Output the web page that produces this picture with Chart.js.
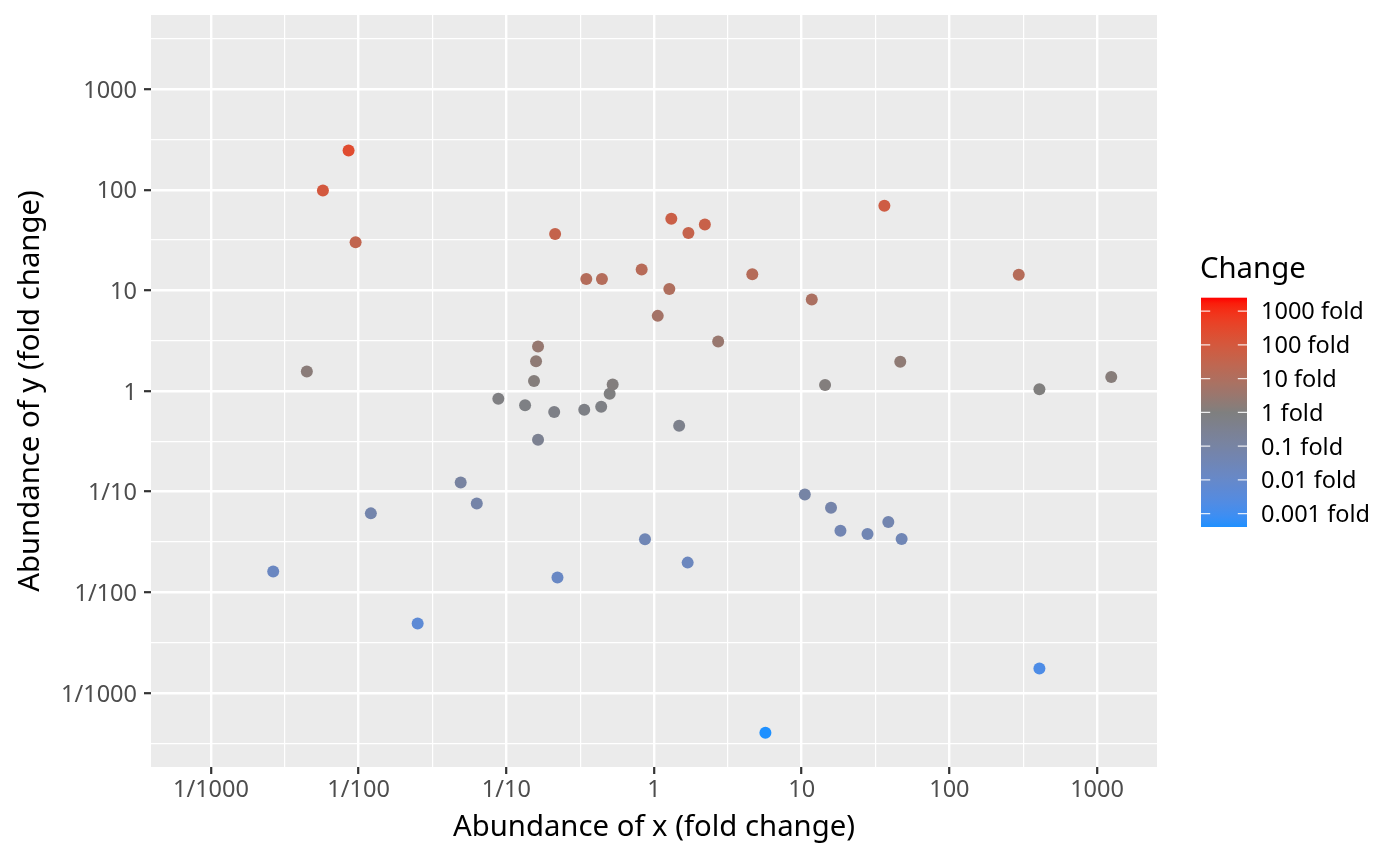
<!DOCTYPE html>
<html>
<head>
<meta charset="utf-8">
<title>Abundance fold change</title>
<script src="https://cdn.jsdelivr.net/npm/chart.js@4.4.1/dist/chart.umd.min.js"></script>
<style>
  html, body { margin: 0; padding: 0; background: #ffffff; }
  #wrap { width: 1400px; height: 866px; position: relative; }
</style>
</head>
<body>
<div id="wrap"><canvas id="chart"></canvas></div>
<script>
// fold changes
const xAbundance = [0.00855, 0.00573, 0.00954, 0.00446, 0.00264, 0.0121, 0.0251, 0.0491, 0.0631, 0.0883,
  0.134, 0.154, 0.159, 0.164, 0.164, 0.211, 0.214, 0.222, 0.348, 0.337,
  0.444, 0.439, 0.501, 0.525, 0.825, 0.869, 1.06, 1.27, 1.31, 1.48,
  1.71, 1.69, 2.21, 2.72, 4.63, 5.68, 10.5, 11.7, 14.4, 15.8,
  18.3, 27.9, 36.3, 38.6, 46.5, 47.5, 295, 407, 407, 1248];
const yAbundance = [246, 98.5, 30.0, 1.56, 0.0161, 0.0608, 0.00489, 0.123, 0.0764, 0.837,
  0.723, 1.26, 1.98, 2.77, 0.328, 0.619, 36.4, 0.0140, 13.0, 0.652,
  13.0, 0.697, 0.938, 1.16, 16.1, 0.0337, 5.58, 10.3, 51.6, 0.451,
  37.2, 0.0197, 45.2, 3.10, 14.5, 0.000401, 0.0938, 8.13, 1.15, 0.0692,
  0.0409, 0.0379, 69.4, 0.0498, 1.95, 0.0338, 14.3, 1.04, 0.00175, 1.38];

const axisTickValues = [0.001, 0.01, 0.1, 1, 10, 100, 1000];
const axisTickLabels = ["1/1000", "1/100", "1/10", "1", "10", "100", "1000"];
const legendValues = [1000, 100, 10, 1, 0.1, 0.01, 0.001];
const legendLabels = ["1000 fold", "100 fold", "10 fold", "1 fold", "0.1 fold", "0.01 fold", "0.001 fold"];

const LOW = "#1E90FF", MID = "#7F7F7F", HIGH = "#FF0000";
const FONT = "'Noto Sans', 'DejaVu Sans', sans-serif";

// symmetric limits around 1, plus ggplot's 5% expansion
const maxAbsLog = arr => Math.max(...arr.map(v => Math.abs(Math.log10(v))));
const xLim = maxAbsLog(xAbundance) * 1.1;
const yLim = maxAbsLog(yAbundance) * 1.1;
const colourLim = maxAbsLog(yAbundance);

// ---- colour ramp in Lab space (like scales::div_gradient_pal)
function hexToRgb(h) {
  return [1, 3, 5].map(i => parseInt(h.slice(i, i + 2), 16));
}
function rgbToLab(rgb) {
  const [r, g, b] = rgb.map(c => { c /= 255; return c <= 0.04045 ? c / 12.92 : Math.pow((c + 0.055) / 1.055, 2.4); });
  const X = (0.4124564 * r + 0.3575761 * g + 0.1804375 * b) / 0.95047;
  const Y = (0.2126729 * r + 0.7151522 * g + 0.0721750 * b);
  const Z = (0.0193339 * r + 0.1191920 * g + 0.9503041 * b) / 1.08883;
  const f = t => t > 0.008856 ? Math.cbrt(t) : 7.787 * t + 16 / 116;
  const fx = f(X), fy = f(Y), fz = f(Z);
  return [116 * fy - 16, 500 * (fx - fy), 200 * (fy - fz)];
}
function labToRgb([L, A, B]) {
  const fy = (L + 16) / 116, fx = fy + A / 500, fz = fy - B / 200;
  const finv = t => t * t * t > 0.008856 ? t * t * t : (t - 16 / 116) / 7.787;
  const X = finv(fx) * 0.95047, Y = finv(fy), Z = finv(fz) * 1.08883;
  let r = 3.2404542 * X - 1.5371385 * Y - 0.4985314 * Z;
  let g = -0.9692660 * X + 1.8760108 * Y + 0.0415560 * Z;
  let b = 0.0556434 * X - 0.2040259 * Y + 1.0572252 * Z;
  return [r, g, b].map(c => {
    c = c <= 0.0031308 ? 12.92 * c : 1.055 * Math.pow(c, 1 / 2.4) - 0.055;
    return Math.round(Math.min(1, Math.max(0, c)) * 255);
  });
}
const labLow = rgbToLab(hexToRgb(LOW)), labMid = rgbToLab(hexToRgb(MID)), labHigh = rgbToLab(hexToRgb(HIGH));
function changeColour(logv) {
  let t = 0.5 + logv / (2 * colourLim);
  t = Math.min(1, Math.max(0, t));
  let a, b, s;
  if (t < 0.5) { a = labLow; b = labMid; s = t / 0.5; } else { a = labMid; b = labHigh; s = (t - 0.5) / 0.5; }
  const rgb = labToRgb(a.map((v, i) => v + (b[i] - v) * s));
  return `rgb(${rgb[0]},${rgb[1]},${rgb[2]})`;
}

// major ticks at decades, minor grid at half decades
function halfDecades(lim) {
  const out = [];
  for (let k = -7; k <= 7; k++) {
    const e = k / 2;
    if (Math.abs(e) <= lim) out.push(Math.pow(10, e));
  }
  return out;
}
const isMajor = v => {
  const l = Math.log10(v);
  return Math.abs(l - Math.round(l)) < 1e-6;
};
function tickLabel(v) {
  const i = axisTickValues.findIndex(t => Math.abs(Math.log10(t) - Math.log10(v)) < 1e-6);
  return i >= 0 ? axisTickLabels[i] : "";
}

const gridOpts = {
  color: "#ffffff",
  lineWidth: c => (c.tick && isMajor(c.tick.value)) ? 2.4 : 1.2,
  tickColor: c => (c.tick && isMajor(c.tick.value)) ? "#333333" : "rgba(0,0,0,0)",
  tickWidth: 2.2,
  tickLength: 7,
  drawTicks: true
};

const panelBg = {
  id: "panelBg",
  beforeDraw(chart) {
    const { ctx, chartArea: a } = chart;
    ctx.save();
    ctx.fillStyle = "#EBEBEB";
    ctx.fillRect(a.left, a.top, a.right - a.left, a.bottom - a.top);
    ctx.restore();
  }
};

// colour bar legend
const changeBar = {
  id: "changeBar",
  afterDraw(chart) {
    const ctx = chart.ctx;
    const barL = 1201, barT = 297.7, barW = 46, barH = 229.3;
    const yOf = v => barT + (colourLim - Math.log10(v)) / (2 * colourLim) * barH;
    ctx.save();
    ctx.fillStyle = "#000000";
    ctx.font = `29.3px ${FONT}`;
    ctx.textAlign = "left";
    ctx.textBaseline = "alphabetic";
    ctx.fillText("Change", 1200, 278.3);

    const grad = ctx.createLinearGradient(0, barT, 0, barT + barH);
    const n = 40;
    for (let i = 0; i <= n; i++) {
      const s = i / n;
      grad.addColorStop(s, changeColour(colourLim - s * 2 * colourLim));
    }
    ctx.fillStyle = grad;
    ctx.fillRect(barL, barT, barW, barH);

    ctx.strokeStyle = "rgba(255,255,255,0.85)";
    ctx.lineWidth = 1.4;
    ctx.font = `23.5px ${FONT}`;
    ctx.fillStyle = "#000000";
    legendValues.forEach((v, i) => {
      const y = yOf(v);
      ctx.beginPath();
      ctx.moveTo(barL, y); ctx.lineTo(barL + barW / 5, y);
      ctx.moveTo(barL + barW - barW / 5, y); ctx.lineTo(barL + barW, y);
      ctx.stroke();
      ctx.fillText(legendLabels[i], 1261, y + 8.4);
    });
    ctx.restore();
  }
};

Chart.defaults.font.family = FONT;

new Chart(document.getElementById("chart"), {
  type: "scatter",
  data: {
    datasets: [{
      data: xAbundance.map((x, i) => ({ x: x, y: yAbundance[i] })),
      backgroundColor: yAbundance.map(v => changeColour(Math.log10(v))),
      borderWidth: 0,
      pointRadius: 6,
      pointHoverRadius: 6
    }]
  },
  options: {
    responsive: true,
    maintainAspectRatio: false,
    animation: false,
    events: [],
    layout: { padding: { left: 0, top: 15, right: 243, bottom: 0 } },
    plugins: { legend: { display: false }, tooltip: { enabled: false } },
    scales: {
      x: {
        type: "logarithmic",
        min: Math.pow(10, -xLim),
        max: Math.pow(10, xLim),
        afterBuildTicks: s => { s.ticks = halfDecades(xLim).map(v => ({ value: v })); },
        afterFit: s => { s.height = 99; s.paddingLeft = 0; s.paddingRight = 0; },
        grid: gridOpts,
        border: { display: false },
        ticks: {
          autoSkip: false, maxRotation: 0, padding: 2,
          color: "#4D4D4D", font: { size: 23.5 },
          callback: v => tickLabel(v)
        },
        title: {
          display: true, text: "Abundance of x (fold change)",
          color: "#000000", font: { size: 29.3 },
          padding: { top: 0, bottom: 21 }
        }
      },
      y: {
        type: "logarithmic",
        min: Math.pow(10, -yLim),
        max: Math.pow(10, yLim),
        afterBuildTicks: s => { s.ticks = halfDecades(yLim).map(v => ({ value: v })); },
        afterFit: s => { s.width = 151; s.paddingTop = 0; s.paddingBottom = 0; },
        grid: gridOpts,
        border: { display: false },
        ticks: {
          autoSkip: false, padding: 7, labelOffset: 2,
          color: "#4D4D4D", font: { size: 23.5 },
          callback: v => tickLabel(v)
        },
        title: {
          display: true, text: "Abundance of y (fold change)",
          color: "#000000", font: { size: 29.3 },
          padding: { top: 13, bottom: 0 }
        }
      }
    }
  },
  plugins: [panelBg, changeBar]
});
</script>
</body>
</html>
